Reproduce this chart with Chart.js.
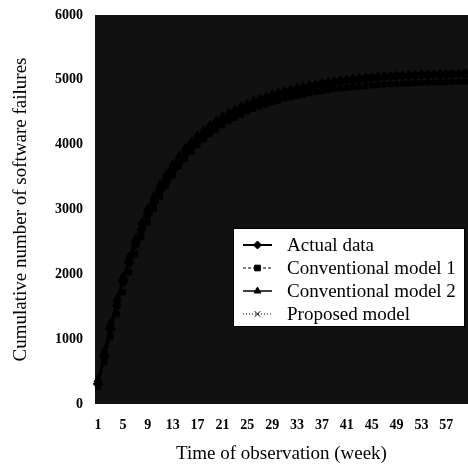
<!DOCTYPE html>
<html>
<head>
<meta charset="utf-8">
<script src="https://cdn.jsdelivr.net/npm/chart.js@4/dist/chart.umd.min.js"></script>
<style>
  html, body { margin: 0; padding: 0; background: #fff; }
  canvas { display: block; }
</style>
</head>
<body>
<canvas id="failChart" width="468" height="465"></canvas>
<script>
// weeks 1..60
const weeks = [];
for (let w = 1; w <= 60; w++) weeks.push(String(w));

// cumulative failures (estimates)
const actualData = [310, 740, 1160, 1520, 1890, 2180, 2470, 2690, 2930, 3110,
  3310, 3450, 3610, 3720, 3860, 3950, 4070, 4140, 4240, 4290,
  4380, 4420, 4500, 4530, 4600, 4620, 4680, 4700, 4750, 4760,
  4810, 4820, 4860, 4870, 4900, 4905, 4935, 4940, 4965, 4970,
  4995, 5000, 5015, 5020, 5035, 5040, 5050, 5052, 5060, 5062,
  5068, 5070, 5074, 5076, 5080, 5082, 5085, 5087, 5089, 5090];
const model1Data = [260, 650, 1030, 1390, 1720, 2030, 2310, 2570, 2800, 3010,
  3200, 3370, 3520, 3660, 3780, 3890, 3990, 4080, 4160, 4230,
  4300, 4360, 4410, 4460, 4510, 4550, 4590, 4620, 4650, 4680,
  4710, 4730, 4750, 4770, 4790, 4810, 4825, 4840, 4855, 4865,
  4875, 4885, 4895, 4905, 4912, 4918, 4924, 4930, 4935, 4940,
  4944, 4948, 4952, 4956, 4959, 4962, 4965, 4968, 4970, 4972];
const model2Data = [380, 820, 1240, 1620, 1960, 2270, 2540, 2790, 3010, 3210,
  3390, 3550, 3690, 3820, 3940, 4040, 4140, 4220, 4300, 4370,
  4430, 4490, 4540, 4590, 4630, 4670, 4710, 4740, 4770, 4800,
  4830, 4850, 4875, 4895, 4915, 4930, 4945, 4960, 4975, 4985,
  4995, 5005, 5015, 5022, 5030, 5037, 5043, 5049, 5054, 5059,
  5063, 5067, 5071, 5074, 5077, 5080, 5083, 5085, 5087, 5089];
const proposedData = [300, 730, 1150, 1520, 1870, 2180, 2460, 2700, 2920, 3120,
  3300, 3460, 3600, 3730, 3850, 3960, 4060, 4150, 4230, 4300,
  4370, 4430, 4490, 4540, 4590, 4630, 4670, 4710, 4740, 4770,
  4800, 4830, 4850, 4870, 4890, 4910, 4930, 4945, 4960, 4975,
  4990, 5000, 5010, 5020, 5030, 5040, 5045, 5050, 5055, 5060,
  5064, 5068, 5072, 5075, 5078, 5081, 5084, 5086, 5088, 5090];

const yTicks = [0, 1000, 2000, 3000, 4000, 5000, 6000];
const legendLabels = ["Actual data", "Conventional model 1", "Conventional model 2", "Proposed model"];

// dark plot background (the scan is nearly black here)
const plotBackground = {
  id: "plotBackground",
  beforeDraw(chart) {
    const { ctx, chartArea: a } = chart;
    ctx.save();
    ctx.fillStyle = "#111";
    ctx.fillRect(a.left, a.top, a.right - a.left, a.bottom - a.top);
    ctx.restore();
  }
};

// legend box drawn inside the plot
const boxLegend = {
  id: "boxLegend",
  afterDraw(chart) {
    const ctx = chart.ctx;
    const x0 = 233, y0 = 228, x1 = 465, y1 = 327;
    const rows = [245, 268, 291, 314];
    ctx.save();
    ctx.fillStyle = "#fff";
    ctx.fillRect(x0, y0, x1 - x0, y1 - y0);
    ctx.strokeStyle = "#000";
    ctx.lineWidth = 1;
    ctx.strokeRect(x0 + 0.5, y0 + 0.5, x1 - x0 - 1, y1 - y0 - 1);
    chart.data.datasets.forEach((ds, i) => {
      const y = rows[i];
      ctx.save();
      ctx.strokeStyle = "#000";
      ctx.lineWidth = ds.borderWidth;
      ctx.setLineDash(ds.borderDash || []);
      ctx.beginPath();
      ctx.moveTo(243, y);
      ctx.lineTo(272, y);
      ctx.stroke();
      ctx.restore();
      ctx.fillStyle = "#000";
      ctx.strokeStyle = "#000";
      Chart.helpers.drawPoint(ctx, {
        pointStyle: ds.pointStyle,
        radius: 4,
        borderWidth: 2
      }, 257.5, y);
      ctx.font = "19px 'Liberation Serif', 'Times New Roman', serif";
      ctx.textBaseline = "middle";
      ctx.fillText(legendLabels[i], 287, y + 1);
    });
    ctx.restore();
  }
};

const tickFont = { family: "'Liberation Serif', 'Times New Roman', serif", size: 14, weight: "bold" };
const titleFont = { family: "'Liberation Serif', 'Times New Roman', serif", size: 19, lineHeight: 1 };

new Chart(document.getElementById("failChart").getContext("2d"), {
  type: "line",
  data: {
    labels: weeks,
    datasets: [
      { label: legendLabels[0], data: actualData, borderColor: "#000", backgroundColor: "#000",
        borderWidth: 2, pointStyle: "rectRot", pointRadius: 4 },
      { label: legendLabels[1], data: model1Data, borderColor: "#000", backgroundColor: "#000",
        borderWidth: 1, borderDash: [3, 2], pointStyle: "rect", pointRadius: 3.5 },
      { label: legendLabels[2], data: model2Data, borderColor: "#000", backgroundColor: "#000",
        borderWidth: 1.5, pointStyle: "triangle", pointRadius: 4 },
      { label: legendLabels[3], data: proposedData, borderColor: "#000", backgroundColor: "#000",
        borderWidth: 1, borderDash: [1, 2], pointStyle: "crossRot", pointRadius: 4, pointBorderWidth: 2 }
    ]
  },
  options: {
    responsive: false,
    animation: false,
    layout: { autoPadding: false, padding: { top: 15, right: 0, left: 0, bottom: 0 } },
    plugins: {
      legend: { display: false },
      tooltip: { enabled: false }
    },
    scales: {
      x: {
        offset: true,
        grid: { display: false },
        border: { display: false },
        ticks: {
          autoSkip: false,
          maxRotation: 0,
          padding: 5,
          color: "#000",
          font: tickFont,
          callback: (v, i) => (i % 4 === 0 ? weeks[i] : "")
        },
        title: { display: true, text: "Time of observation (week)", color: "#000", font: titleFont, padding: { top: 0, bottom: 1 } },
        afterFit: (s) => { s.height = 61; s.paddingLeft = 0; s.paddingRight = 0; }
      },
      y: {
        min: 0,
        max: 6000,
        grid: { display: false },
        border: { display: false },
        afterBuildTicks: (s) => { s.ticks = yTicks.map(v => ({ value: v })); },
        ticks: { padding: 4, color: "#000", font: tickFont, callback: (v) => String(v) },
        title: { display: true, text: "Cumulative number of software failures", color: "#000", font: titleFont, padding: { top: 12, bottom: 0 } },
        afterFit: (s) => { s.width = 95; }
      }
    }
  },
  plugins: [plotBackground, boxLegend]
});
</script>
</body>
</html>
